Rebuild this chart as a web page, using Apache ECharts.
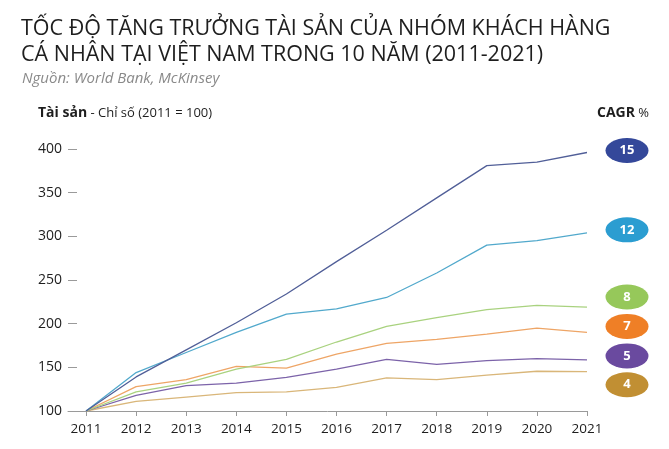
<!DOCTYPE html>
<html>
<head>
<meta charset="utf-8">
<script src="https://cdn.jsdelivr.net/npm/echarts@6/dist/echarts.min.js"></script>
<style>html,body{margin:0;padding:0;background:#fff}#c{width:669px;height:449px}</style>
</head>
<body>
<div id="c"></div>
<script>
const years = [2011, 2012, 2013, 2014, 2015, 2016, 2017, 2018, 2019, 2020, 2021];
const yTicks = [100, 150, 200, 250, 300, 350, 400];
const cagr = ['15', '12', '8', '7', '5', '4'];
const s15 = [100, 139, 170, 201, 234, 271, 307, 344, 381, 385, 396];
const s12 = [100, 144, 167, 190, 211, 217, 230, 258, 290, 295, 304];
const s8  = [100, 122, 132, 148, 159, 179, 197, 207, 216, 221, 219];
const s7  = [100, 128, 136, 151, 149, 165, 177.5, 182, 188, 195, 190];
const s5  = [100, 118, 129, 132, 138.6, 148, 159, 153.5, 157.6, 160, 158.5];
const s4  = [100, 111, 116, 121, 122, 127, 138, 136, 141, 145.5, 145];

const seriesVals = [s15, s12, s8, s7, s5, s4];
const lineColors = ['#515f98', '#52a9cc', '#a9d27f', '#eea566', '#7c63a9', '#d9b679'];
const badgeColors = ['#34489a', '#2b9dd1', '#96c85a', '#ef7f26', '#6a4a9f', '#c18f33'];
const badgeDy = [-2, -3, -10, -6, -4, 13];

const font = '"Open Sans", sans-serif';
const chart = echarts.init(document.getElementById('c'), null, {renderer: 'canvas'});

const series = seriesVals.map((vals, i) => ({
  type: 'line',
  data: vals.map((v, j) => [years[j], v]),
  showSymbol: false,
  symbol: 'none',
  lineStyle: {color: lineColors[i], width: 1.3},
  z: 10 - i,
  markPoint: {
    symbol: 'circle',
    symbolSize: [43, 25],
    symbolOffset: [40, badgeDy[i]],
    itemStyle: {color: badgeColors[i]},
    label: {
      show: true, formatter: cagr[i], color: '#fff',
      fontFamily: font, fontWeight: 'bold', fontSize: 13
    },
    data: [{coord: [years[years.length - 1], vals[vals.length - 1]]}]
  }
}));

chart.setOption({
  animation: false,
  backgroundColor: '#fff',
  title: [
    {text: 'TỐC ĐỘ TĂNG TRƯỞNG TÀI SẢN CỦA NHÓM KHÁCH HÀNG\nCÁ NHÂN TẠI VIỆT NAM TRONG 10 NĂM (2011-2021)',
     left: 21, top: 16, padding: 0,
     textStyle: {fontFamily: font, fontWeight: 'normal', fontSize: 21.5, lineHeight: 26, color: '#1e1e1e'}},
    {text: 'Nguồn: World Bank, McKinsey', left: 22, top: 71, padding: 0,
     textStyle: {fontFamily: font, fontStyle: 'italic', fontWeight: 'normal', fontSize: 15, color: '#8a8a8a'}},
    {text: '{b|Tài sản} - Chỉ số (2011 = 100)', left: 38, top: 106, padding: 0,
     textStyle: {fontFamily: font, fontWeight: 'normal', fontSize: 13, color: '#1e1e1e',
       rich: {b: {fontFamily: font, fontWeight: 'bold', fontSize: 14, color: '#1e1e1e'}}}},
    {text: '{b|CAGR} %', left: 597, top: 106, padding: 0,
     textStyle: {fontFamily: font, fontWeight: 'normal', fontSize: 13, color: '#1e1e1e',
       rich: {b: {fontFamily: font, fontWeight: 'bold', fontSize: 14, color: '#1e1e1e'}}}}
  ],
  grid: {left: 68, right: 82, top: 149, bottom: 38, containLabel: false},
  xAxis: {
    type: 'value',
    min: 2010.64, max: 2021,
    splitLine: {show: false},
    axisLine: {show: true, lineStyle: {color: '#9a9a9a', width: 1}},
    axisTick: {show: true, length: 5, customValues: years, lineStyle: {color: '#9a9a9a'}},
    axisLabel: {customValues: years, color: '#1e1e1e', fontFamily: font, fontSize: 13.5, margin: 11,
      formatter: v => String(v)}
  },
  yAxis: {
    type: 'value',
    min: 100, max: 400, interval: 50,
    splitLine: {show: false},
    axisLine: {show: false},
    axisTick: {show: true, inside: true, length: 9, lineStyle: {color: '#9a9a9a'}},
    axisLabel: {color: '#1e1e1e', fontFamily: font, fontSize: 14, margin: 6},
    data: yTicks
  },
  series: series
});
</script>
</body>
</html>
